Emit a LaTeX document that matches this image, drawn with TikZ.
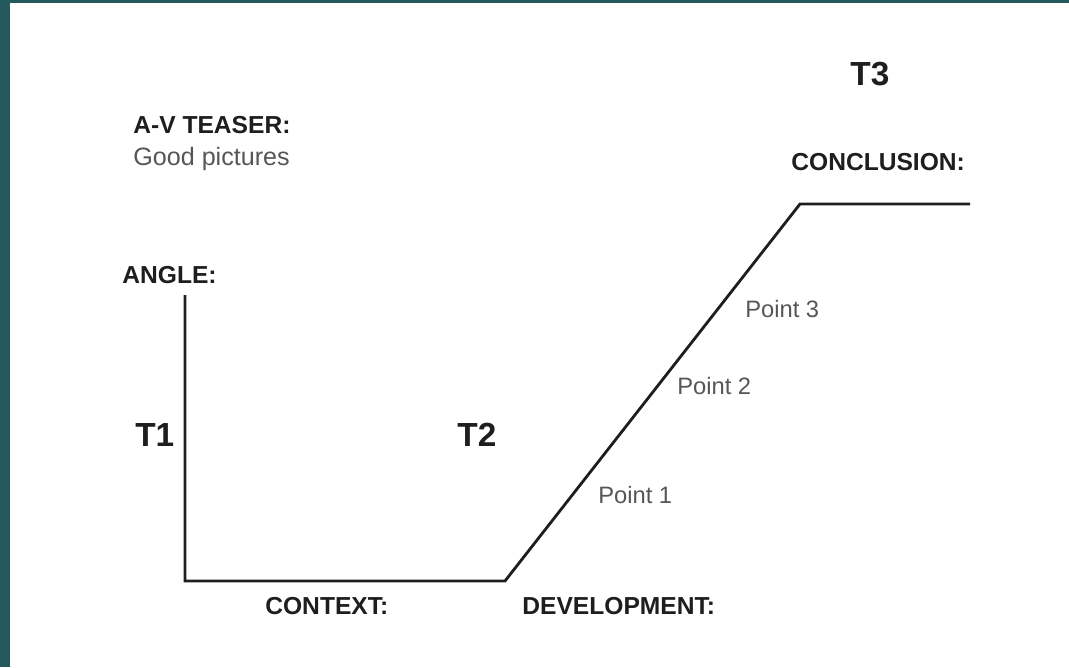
\documentclass[tikz,border=0pt]{standalone}
\usepackage{fontspec}
\setmainfont{Liberation Sans}
\definecolor{frame}{HTML}{245A5C}
\definecolor{ink}{HTML}{1E1E1E}
\tikzset{
  head/.style={font=\fontsize{14}{16}\selectfont\bfseries, text=ink, inner sep=0pt, anchor=base west},
  note/.style={font=\fontsize{13.5}{16}\selectfont, text=ink!75, inner sep=0pt, anchor=base west},
  stage/.style={font=\fontsize{19}{22}\selectfont\bfseries, text=ink, inner sep=0pt, anchor=base west},
}
\begin{document}
\begin{tikzpicture}[x=0.02cm,y=-0.02cm]
\useasboundingbox (0,0) rectangle (1069,667);
\fill[frame] (0,0) rectangle (10,667);
\fill[frame] (0,0) rectangle (1069,3);

\coordinate (start) at (185,295);
\coordinate (low-1) at (185,581);
\coordinate (low-2) at (505,581);
\coordinate (high-1) at (800,204);
\coordinate (high-2) at (970,204);
\draw [ink, line width=1.6pt] (start) -- (low-1) -- (low-2) -- (high-1) -- (high-2);

\node (teaser) at (133,133) [head]{A-V TEASER:};
\node (pics) at (133,165) [note, font=\fontsize{14.3}{16}\selectfont]{Good pictures};
\node (angle) at (122,283) [head]{ANGLE:};

\node (T1) at (135,446) [stage]{T1};
\node (T2) at (457,446) [stage]{T2};
\node (T3) at (850,85) [stage]{T3};

\node (concl) at (791,170) [head]{CONCLUSION:};
\node (P3) at (745,317) [note]{Point 3};
\node (P2) at (677,394) [note]{Point 2};
\node (P1) at (598,503) [note]{Point 1};

\node (context) at (265,614) [head]{CONTEXT:};
\node (devel) at (522,614) [head]{DEVELOPMENT:};
\end{tikzpicture}
\end{document}
